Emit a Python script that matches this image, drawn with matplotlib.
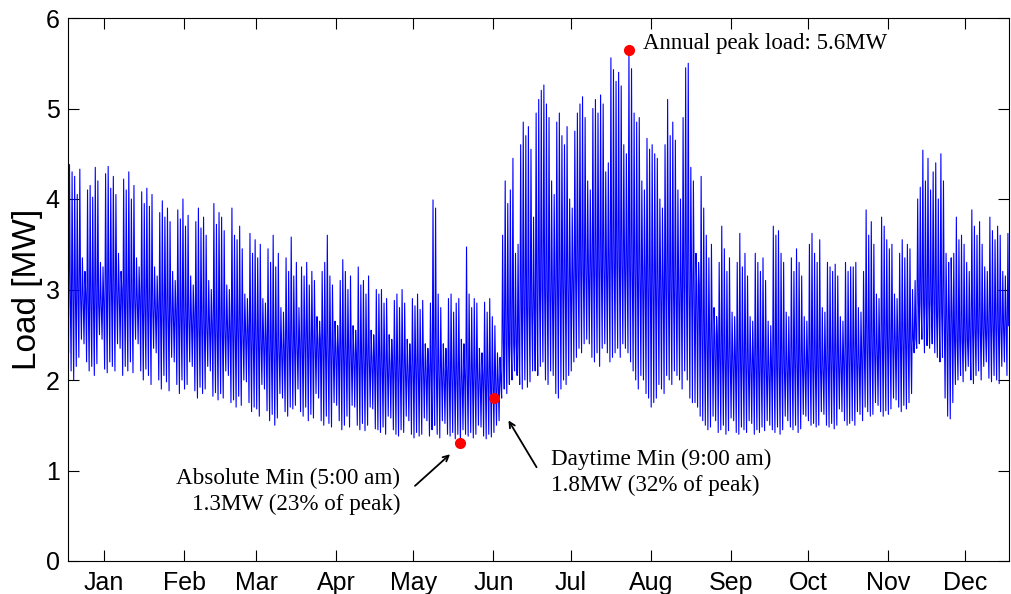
import numpy as np
import matplotlib.pyplot as plt

# month labels (ticks sit in the middle of each month)
month_names = ['Jan', 'Feb', 'Mar', 'Apr', 'May', 'Jun',
               'Jul', 'Aug', 'Sep', 'Oct', 'Nov', 'Dec']
month_lengths = [31, 28, 31, 30, 31, 30, 31, 31, 30, 31, 30, 31]

# daily peak load [MW]
jan_peak = [4.38, 4.30, 4.25, 4.05, 4.33, 3.35, 3.20, 4.10, 4.15, 4.02, 4.35, 4.20, 3.30, 3.25,
            4.28, 4.36, 4.12, 4.25, 4.05, 3.40, 3.20, 4.22, 4.10, 4.30, 4.00, 4.15, 3.35, 3.25,
            4.08, 3.95, 4.12]
feb_peak = [3.92, 4.05, 3.25, 3.15, 3.85, 3.98, 3.80, 3.90, 3.75, 3.20, 3.10, 3.88, 3.78, 4.00,
            3.70, 3.82, 3.15, 3.05, 3.75, 3.90, 3.68, 3.80, 3.60, 3.10, 3.00, 3.95, 3.72, 3.85]
mar_peak = [3.80, 3.65, 3.05, 3.00, 3.90, 3.60, 3.55, 3.70, 3.45, 2.95, 2.90, 3.62, 3.40, 3.55,
            3.35, 3.50, 2.90, 2.85, 3.45, 3.30, 3.60, 3.25, 3.40, 2.80, 2.75, 3.35, 3.20, 3.58,
            3.15, 3.30, 2.80]
apr_peak = [3.25, 3.15, 3.30, 3.05, 3.20, 3.10, 2.70, 2.65, 3.20, 3.30, 3.60, 3.15, 3.05, 2.65,
            2.60, 3.10, 3.33, 3.20, 3.00, 3.15, 2.60, 2.55, 3.25, 3.05, 3.10, 2.95, 3.15, 2.55,
            2.50, 3.00]
may_peak = [2.95, 3.00, 2.85, 2.90, 2.50, 2.45, 2.88, 2.95, 2.80, 3.00, 2.85, 2.45, 2.40, 2.90,
            2.82, 2.95, 2.78, 2.88, 2.40, 2.35, 2.85, 3.99, 3.90, 2.95, 2.80, 2.40, 2.35, 2.90,
            2.95, 2.75, 2.85]
jun_peak = [2.90, 2.45, 2.40, 3.47, 2.95, 2.80, 2.90, 2.85, 2.35, 2.30, 2.86, 2.75, 2.90, 2.70,
            2.60, 2.30, 2.25, 3.60, 4.20, 3.95, 4.10, 4.45, 3.40, 3.50, 4.60, 4.85, 4.70, 4.80,
            4.55, 3.80]
jul_peak = [4.95, 5.10, 5.20, 5.26, 5.05, 4.90, 4.20, 4.05, 4.85, 4.95, 4.70, 4.60, 4.80, 4.00,
            3.90, 4.75, 4.95, 5.05, 5.13, 4.90, 4.20, 4.10, 5.00, 5.10, 4.95, 5.15, 5.05, 4.30,
            4.40, 5.56, 5.43]
aug_peak = [5.30, 5.40, 5.25, 4.60, 4.50, 5.65, 5.44, 4.95, 4.85, 4.90, 4.20, 4.10, 4.67, 4.55,
            4.60, 4.50, 4.45, 4.00, 3.90, 4.60, 5.10, 4.70, 4.85, 4.65, 4.10, 4.00, 4.90, 5.45,
            5.50, 4.35, 4.20]
sep_peak = [3.40, 3.30, 4.25, 3.90, 3.60, 3.35, 3.50, 2.80, 2.70, 3.30, 3.70, 3.45, 3.20, 3.35,
            2.75, 2.70, 3.30, 3.62, 3.25, 3.40, 3.15, 2.70, 2.65, 3.40, 3.30, 3.20, 3.35, 3.10,
            2.65, 2.60]
oct_peak = [3.70, 3.60, 3.65, 3.40, 3.30, 2.75, 2.70, 3.35, 3.20, 3.45, 3.30, 3.15, 2.70, 2.65,
            3.50, 3.62, 3.40, 3.30, 3.55, 2.80, 2.75, 3.30, 3.25, 3.20, 3.28, 3.15, 2.70, 2.65,
            3.30, 3.20, 3.25]
nov_peak = [3.25, 3.30, 2.80, 2.75, 3.20, 3.88, 3.60, 3.75, 3.50, 2.95, 2.90, 3.80, 3.70, 3.55,
            3.45, 3.50, 2.95, 2.90, 3.40, 3.55, 3.35, 3.50, 3.45, 3.00, 3.10, 4.00, 4.13, 4.54,
            4.20, 4.45]
dec_peak = [4.10, 4.30, 4.40, 4.00, 4.50, 4.20, 3.40, 3.30, 3.35, 3.40, 3.80, 3.55, 3.60, 3.50,
            3.30, 3.20, 3.88, 3.70, 3.60, 3.75, 3.50, 3.25, 3.20, 3.80, 3.65, 3.55, 3.70, 3.60,
            3.20, 3.15, 3.62]

# daily early-morning minimum load [MW]
jan_low = [2.30, 2.10, 2.00, 2.15, 2.25, 2.45, 2.40, 2.20, 2.10, 2.15, 2.05, 2.18, 2.50, 2.45,
           2.12, 2.08, 2.20, 2.15, 2.10, 2.40, 2.35, 2.05, 2.15, 2.10, 2.20, 2.08, 2.45, 2.40,
           2.10, 2.00, 2.12]
feb_low = [2.05, 1.95, 2.35, 2.30, 2.00, 1.90, 2.05, 1.98, 1.88, 2.25, 2.20, 1.95, 1.85, 2.00,
           1.90, 1.95, 2.20, 2.15, 1.88, 1.80, 1.92, 1.85, 1.90, 2.15, 2.10, 1.82, 1.86, 1.78]
mar_low = [1.85, 1.80, 2.10, 2.05, 1.75, 1.78, 1.70, 1.82, 1.72, 2.00, 1.98, 1.75, 1.65, 1.70,
           1.68, 1.60, 1.95, 1.90, 1.66, 1.55, 1.62, 1.50, 1.58, 1.85, 1.80, 1.65, 1.60, 1.70,
           1.68, 1.72, 1.90]
apr_low = [1.65, 1.60, 1.70, 1.55, 1.62, 1.58, 1.85, 1.80, 1.55, 1.50, 1.60, 1.52, 1.48, 1.75,
           1.72, 1.55, 1.45, 1.50, 1.60, 1.48, 1.72, 1.70, 1.50, 1.45, 1.52, 1.44, 1.50, 1.70,
           1.68, 1.46]
may_low = [1.45, 1.42, 1.48, 1.40, 1.60, 1.58, 1.45, 1.40, 1.38, 1.45, 1.42, 1.60, 1.55, 1.40,
           1.36, 1.42, 1.38, 1.40, 1.58, 1.55, 1.38, 1.45, 1.50, 1.40, 1.36, 1.55, 1.52, 1.40,
           1.38, 1.42, 1.35]
jun_low = [1.40, 1.30, 1.45, 1.40, 1.38, 1.42, 1.36, 1.40, 1.50, 1.48, 1.38, 1.35, 1.40, 1.37,
           1.42, 1.50, 1.55, 1.80, 1.90, 1.85, 1.95, 2.00, 2.10, 2.05, 1.95, 1.90, 2.00, 1.92,
           1.98, 2.10]
jul_low = [2.10, 2.05, 2.15, 2.20, 2.00, 1.95, 2.10, 2.05, 1.85, 1.80, 1.90, 2.00, 1.95, 2.05,
           2.10, 2.20, 2.25, 2.35, 2.30, 2.40, 2.45, 2.40, 2.25, 2.20, 2.30, 2.15, 2.35, 2.40,
           2.30, 2.20, 2.25]
aug_low = [2.30, 2.35, 2.25, 2.40, 2.35, 2.30, 2.20, 2.10, 2.00, 1.90, 2.05, 2.00, 1.85, 1.80,
           1.70, 1.75, 1.80, 1.95, 1.90, 1.85, 2.05, 2.00, 1.95, 2.10, 2.05, 2.00, 1.90, 2.10,
           2.00, 1.80, 1.75]
sep_low = [1.75, 1.70, 1.60, 1.55, 1.50, 1.45, 1.48, 1.60, 1.55, 1.42, 1.45, 1.50, 1.40, 1.44,
           1.58, 1.55, 1.42, 1.40, 1.48, 1.45, 1.42, 1.55, 1.52, 1.40, 1.45, 1.42, 1.48, 1.44,
           1.55, 1.50]
oct_low = [1.45, 1.42, 1.48, 1.40, 1.45, 1.60, 1.55, 1.48, 1.45, 1.50, 1.42, 1.46, 1.62, 1.60,
           1.55, 1.50, 1.52, 1.48, 1.50, 1.65, 1.62, 1.50, 1.48, 1.52, 1.46, 1.50, 1.68, 1.65,
           1.55, 1.50, 1.52]
nov_low = [1.55, 1.50, 1.65, 1.62, 1.55, 1.70, 1.65, 1.60, 1.62, 1.75, 1.72, 1.65, 1.60, 1.66,
           1.62, 1.68, 1.80, 1.78, 1.70, 1.65, 1.72, 1.68, 1.75, 1.85, 2.30, 2.35, 2.40, 2.45,
           2.30, 2.38]
dec_low = [2.35, 2.40, 2.30, 2.25, 2.20, 2.25, 1.80, 1.60, 1.57, 1.75, 1.95, 2.00, 2.05, 1.98,
           2.10, 2.15, 2.00, 1.96, 2.05, 2.10, 2.00, 2.15, 2.20, 2.02, 1.98, 2.05, 2.00, 1.96,
           2.15, 2.20, 2.05]

# evening load level per week [MW] (the dark band)
weekly_evening = [2.95, 2.85, 3.00, 2.90, 2.80,
                  2.75, 2.70, 2.60, 2.55,
                  2.55, 2.45, 2.35, 2.40,
                  2.45, 2.35, 2.30, 2.25,
                  2.20, 2.15, 2.15, 2.10, 2.05,
                  2.05, 2.00, 2.40, 2.80,
                  3.00, 3.10, 3.20, 3.25, 3.30, 3.20, 3.10, 3.00, 3.05,
                  2.50, 2.25, 2.20, 2.15,
                  2.15, 2.20, 2.15, 2.20, 2.25,
                  2.35, 2.45, 2.45, 2.85,
                  2.75, 2.45, 2.55, 2.60, 2.60]

# daytime minimum (9:00 am)
daytime_min_day = 165.4
daytime_min_load = 1.8

peak = np.concatenate([jan_peak, feb_peak, mar_peak, apr_peak, may_peak, jun_peak,
                       jul_peak, aug_peak, sep_peak, oct_peak, nov_peak, dec_peak])
low = np.concatenate([jan_low, feb_low, mar_low, apr_low, may_low, jun_low,
                      jul_low, aug_low, sep_low, oct_low, nov_low, dec_low])
days = np.arange(len(peak))
evening = np.repeat(weekly_evening, 7)[:len(peak)]

# min at 5:00, peak at 14:00, evening at 21:00
t = np.column_stack([days + 5 / 24, days + 14 / 24, days + 21 / 24]).ravel()
load = np.column_stack([low, peak, evening]).ravel()
t = np.concatenate([[0], t])
load = np.concatenate([[weekly_evening[0]], load])

i_max = np.argmax(load)
i_min = np.argmin(load)

fig = plt.figure(figsize=(10.11, 5.94), dpi=100)
ax = fig.add_axes([68 / 1011, 33 / 594, 941 / 1011, 543 / 594])

ax.plot(t, load, color='#0000ff', lw=0.8)
ax.plot(t[i_max], load[i_max], 'o', color='red', ms=7)
ax.plot(t[i_min], load[i_min], 'o', color='red', ms=7)
ax.plot(daytime_min_day, daytime_min_load, 'o', color='red', ms=7)

serif = 'Liberation Serif'
ax.text(223.0, 5.72, 'Annual peak load: 5.6MW', fontsize=16.5, family=serif,
        ha='left', va='center')
ax.text(128.8, 0.77, 'Absolute Min (5:00 am)\n1.3MW (23% of peak)', fontsize=16.7,
        family=serif, ha='right', va='center', multialignment='right', linespacing=1.3)
ax.text(187.4, 0.98, 'Daytime Min (9:00 am)\n1.8MW (32% of peak)', fontsize=16.7,
        family=serif, ha='left', va='center', multialignment='left', linespacing=1.3)
ax.annotate('', xy=(149.0, 1.20), xytext=(133.8, 0.81),
            arrowprops=dict(arrowstyle='->', color='black', lw=1.3))
ax.annotate('', xy=(170.3, 1.58), xytext=(182.3, 1.01),
            arrowprops=dict(arrowstyle='->', color='black', lw=1.3))

month_starts = np.cumsum([0] + month_lengths[:-1])
ax.set_xticks(month_starts + 14)
ax.set_xticklabels(month_names)
ax.set_xlim(0, 365)
ax.set_ylim(0, 6)
ax.set_yticks(range(7))
ax.tick_params(direction='in', length=8, width=0.8, top=True, right=True,
               labelsize=18, pad=7)
ax.tick_params(axis='y', pad=6)
for lab in ax.get_xticklabels() + ax.get_yticklabels():
    lab.set_family('Liberation Sans')
ax.set_ylabel('Load [MW]', fontsize=24, family='Liberation Sans', labelpad=2)

fig.savefig('out.png', dpi=100)
